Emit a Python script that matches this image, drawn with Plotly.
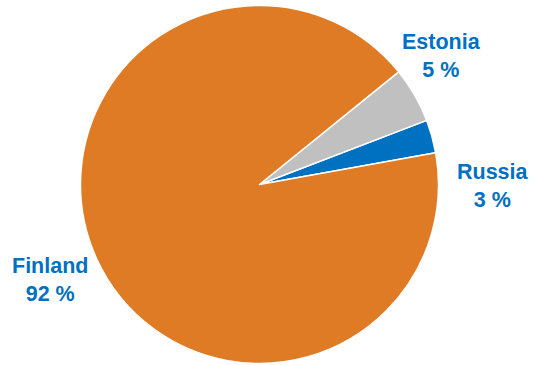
import plotly.graph_objects as go

countries = ["Russia", "Estonia", "Finland"]
shares = [3, 5, 92]
colors = ["#0070C0", "#C0C0C0", "#E07B25"]
label_pos = {"Estonia": (441, 56), "Russia": (493, 186), "Finland": (50, 280)}

W, H = 533, 365
cx, cy, r = 259.5, 184.5, 179

fig = go.Figure(go.Pie(
    labels=countries, values=shares, sort=False,
    direction="counterclockwise", rotation=69,
    marker=dict(colors=colors, line=dict(color="white", width=1.5)),
    textinfo="none", hoverinfo="label+percent",
    domain=dict(x=[(cx - r) / W, (cx + r) / W], y=[(H - cy - r) / H, (H - cy + r) / H]),
    showlegend=False,
))

for name, val in zip(countries, shares):
    x, y = label_pos[name]
    fig.add_annotation(
        x=x / W, y=1 - y / H, xref="paper", yref="paper",
        text=f"{name}<br>{val} %", showarrow=False,
        font=dict(family="Liberation Sans, Arial", size=21.5, color="#0070C0", weight="bold"),
        xanchor="center", yanchor="middle", align="center",
    )

fig.update_layout(width=W, height=H, margin=dict(l=0, r=0, t=0, b=0),
                  paper_bgcolor="white", plot_bgcolor="white")
fig.write_html("out.html")
